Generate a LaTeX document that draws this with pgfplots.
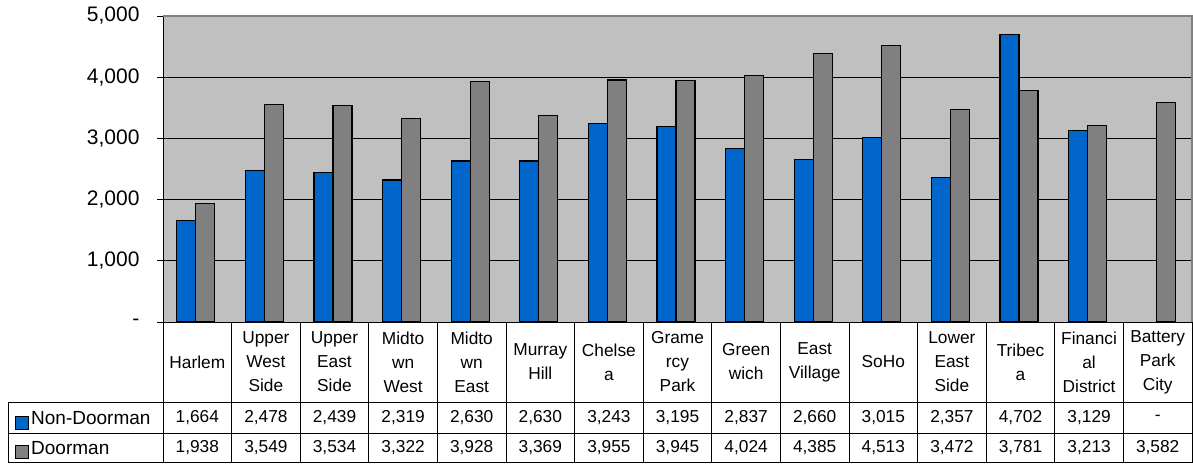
\documentclass[border=0pt]{standalone}
\usepackage{pgfplots}
\pgfplotsset{compat=1.18}
\usepackage{fontspec}
\setmainfont{Liberation Sans}
\definecolor{barblue}{HTML}{0066CC}
\definecolor{bargray}{HTML}{808080}
\definecolor{plotbg}{HTML}{C0C0C0}
\begin{document}
\begin{tikzpicture}[x=1pt,y=1pt]
\useasboundingbox (0,0) rectangle (1193,463);
\begin{axis}[
  at={(163pt,141pt)}, anchor=south west,
  scale only axis, width=1029pt, height=306pt,
  xmin=0, xmax=15, ymin=0, ymax=5000,
  axis lines*=left,
  axis line style={black, line width=0.9pt},
  axis background/.style={fill=plotbg},
  ybar=0pt, bar width=19pt,
  ymajorgrids, grid style={black, line width=0.8pt},
  ytick={0,1000,2000,3000,4000,5000},
  yticklabels={-,{1,000},{2,000},{3,000},{4,000},{5,000}},
  yticklabel style={font=\fontsize{21}{21}\selectfont, xshift=-14pt},
  tick align=outside, major tick length=6pt,
  ytick style={black, line width=0.9pt},
  xtick={0.5,1.5,...,14.5},
  xticklabels={Harlem,{Upper\\West\\Side},{Upper\\East\\Side},{Midto\\wn\\West},{Midto\\wn\\East},{Murray\\Hill},{Chelse\\a},{Grame\\rcy\\Park},{Green\\wich},{East\\Village},SoHo,{Lower\\East\\Side},{Tribec\\a},{Financi\\al\\District},{Battery\\Park\\City}},
  xtick style={draw=none},
  xticklabel style={font=\fontsize{17.3}{24}\selectfont, align=center, anchor=center, yshift=-34pt},
  clip=false,
]
\addplot[fill=barblue, draw=black, line width=1.2pt, bar shift=-11pt] coordinates {
(0.5,1664) (1.5,2478) (2.5,2439) (3.5,2319) (4.5,2630) (5.5,2630) (6.5,3243) (7.5,3195)
(8.5,2837) (9.5,2660) (10.5,3015) (11.5,2357) (12.5,4702) (13.5,3129)};
\addplot[fill=bargray, draw=black, line width=1.2pt, bar shift=8pt] coordinates {
(0.5,1938) (1.5,3549) (2.5,3534) (3.5,3322) (4.5,3928) (5.5,3369) (6.5,3955) (7.5,3945)
(8.5,4024) (9.5,4385) (10.5,4513) (11.5,3472) (12.5,3781) (13.5,3213) (14.5,3582)};
\draw[bargray, line width=1.2pt] (rel axis cs:0,1) -- (rel axis cs:1,1) -- (rel axis cs:1,0);
\end{axis}
% data table
\begin{scope}[line width=0.9pt]
\draw (8,61) -- (1192.5,61);
\draw (8,30) -- (1192.5,30);
\draw (8,1) -- (1192.5,1);
\draw (8,1) -- (8,61);
\foreach \i in {0,...,14} \draw ({163+68.6*\i},141) -- ({163+68.6*\i},1);
\draw (1192.3,141) -- (1192.3,1);
\end{scope}
\foreach \v [count=\i from 0] in {{1,664},{2,478},{2,439},{2,319},{2,630},{2,630},{3,243},{3,195},{2,837},{2,660},{3,015},{2,357},{4,702},{3,129},-}
  \node[font=\fontsize{17.3}{17}\selectfont] at ({163+68.6*(\i+0.5)},45) {\v};
\foreach \v [count=\i from 0] in {{1,938},{3,549},{3,534},{3,322},{3,928},{3,369},{3,955},{3,945},{4,024},{4,385},{4,513},{3,472},{3,781},{3,213},{3,582}}
  \node[font=\fontsize{17.3}{17}\selectfont] at ({163+68.6*(\i+0.5)},15) {\v};
\draw[fill=barblue, line width=0.9pt] (15,34) rectangle (28,47);
\draw[fill=bargray, line width=0.9pt] (15,5) rectangle (28,18);
\node[font=\fontsize{19}{19}\selectfont, anchor=west, inner sep=0pt] at (31,45) {Non-Doorman};
\node[font=\fontsize{19}{19}\selectfont, anchor=west, inner sep=0pt] at (31,15) {Doorman};
\end{tikzpicture}
\end{document}
